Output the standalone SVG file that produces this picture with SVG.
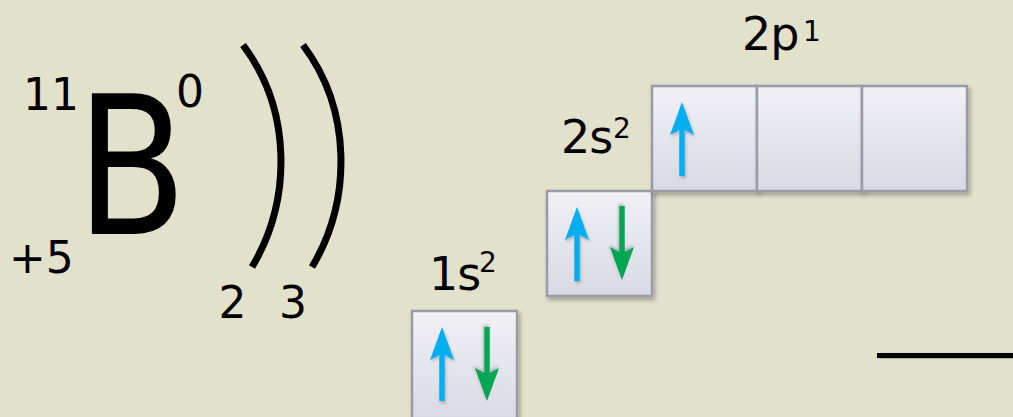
<svg xmlns="http://www.w3.org/2000/svg" xmlns:xlink="http://www.w3.org/1999/xlink" width="1013" height="417" viewBox="0 0 1013 417">
  <defs>
    <linearGradient id="boxFill" x1="0" y1="0" x2="0" y2="1">
      <stop offset="0" stop-color="#F1F1F6"/>
      <stop offset="1" stop-color="#D8D9E2"/>
    </linearGradient>
    <filter id="shadow" x="-20%" y="-20%" width="140%" height="140%">
      <feDropShadow dx="2" dy="3" stdDeviation="2" flood-color="#000" flood-opacity="0.3"/>
    </filter>
    <filter id="ashadow" x="-50%" y="-20%" width="200%" height="140%">
      <feDropShadow dx="1" dy="2" stdDeviation="1.5" flood-color="#000" flood-opacity="0.25"/>
    </filter>
    <path id="arrowUp" d="M0,0 L12,33 L2.7,28 L2.7,74 L-2.7,74 L-2.7,28 L-12,33 Z"/>
  </defs>
  <style>
    .txt { font-family: "DejaVu Sans", "Liberation Sans", sans-serif; fill: #000; }
    .box { fill: url(#boxFill); stroke: #9A9CA5; stroke-width: 2.5; filter: url(#shadow); }
    .shell { fill: none; stroke: #000; stroke-width: 7; stroke-linecap: butt; }
    .up { fill: #00AEEF; filter: url(#ashadow); }
    .down { fill: #00A651; filter: url(#ashadow); }
  </style>
  <rect width="1013" height="417" fill="#E2E1CC"/>

  <g id="element-symbol">
    <text class="txt" transform="translate(131.5,234) scale(0.84,1)" x="0" y="0" font-size="193" text-anchor="middle">B</text>
    <text class="txt" x="23" y="110" font-size="44">11</text>
    <text class="txt" x="176" y="107" font-size="44">0</text>
    <text class="txt" x="9" y="273" font-size="44">+5</text>
  </g>

  <g id="shells">
    <path class="shell" d="M243,45 C292,110 292,200 252,267"/>
    <path class="shell" d="M303,45 C352,110 352,200 312,267"/>
    <text class="txt" x="232.5" y="318" font-size="44" text-anchor="middle">2</text>
    <text class="txt" x="293" y="318" font-size="44" text-anchor="middle">3</text>
  </g>

  <g id="orbital-1s">
    <rect class="box" x="412" y="311" width="105" height="110"/>
    <use xlink:href="#arrowUp" class="up" transform="translate(442,327)"/>
    <use xlink:href="#arrowUp" class="down" transform="translate(487,401) rotate(180)"/>
    <text class="txt" x="429" y="290" font-size="46" letter-spacing="-1">1s</text>
    <text class="txt" x="488" y="272" font-size="28" text-anchor="middle">2</text>
  </g>

  <g id="orbital-2s">
    <rect class="box" x="547" y="191" width="105" height="105"/>
    <use xlink:href="#arrowUp" class="up" transform="translate(577,207)"/>
    <use xlink:href="#arrowUp" class="down" transform="translate(622,280) rotate(180)"/>
    <text class="txt" x="561" y="153" font-size="46" letter-spacing="-1">2s</text>
    <text class="txt" x="622" y="138" font-size="28" text-anchor="middle">2</text>
  </g>

  <g id="orbital-2p">
    <rect class="box" x="652" y="86" width="105" height="105"/>
    <rect class="box" x="757" y="86" width="105" height="105"/>
    <rect class="box" x="862" y="86" width="105" height="105"/>
    <use xlink:href="#arrowUp" class="up" transform="translate(682,102)"/>
    <text class="txt" x="742" y="50" font-size="46" letter-spacing="-1">2p</text>
    <text class="txt" x="812" y="41" font-size="28" text-anchor="middle">1</text>
  </g>

  <g id="connectors">
    <rect x="877" y="353" width="140" height="5" fill="#000" filter="url(#shadow)"/>
  </g>
</svg>
